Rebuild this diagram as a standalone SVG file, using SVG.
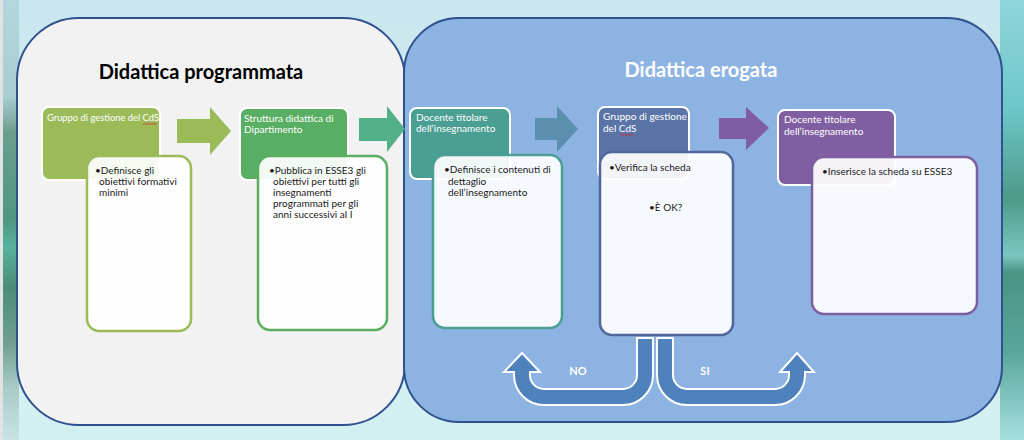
<svg xmlns="http://www.w3.org/2000/svg" width="1024" height="440" viewBox="0 0 1024 440">
<defs>
<linearGradient id="bg" x1="0" y1="0" x2="0" y2="1">
<stop offset="0" stop-color="#c9e6ee"/>
<stop offset="0.5" stop-color="#d6eff2"/>
<stop offset="1" stop-color="#d2f0f2"/>
</linearGradient>
<linearGradient id="lstrip" x1="0" y1="0" x2="0" y2="1">
<stop offset="0" stop-color="#b4d6de"/>
<stop offset="0.22" stop-color="#a9cdd2"/>
<stop offset="0.3" stop-color="#6c9e8e"/>
<stop offset="0.5" stop-color="#4f9683"/>
<stop offset="0.56" stop-color="#58b39c"/>
<stop offset="0.65" stop-color="#4c8c7a"/>
<stop offset="0.78" stop-color="#6f9f92"/>
<stop offset="0.88" stop-color="#a9cac6"/>
<stop offset="1" stop-color="#c8e4e4"/>
</linearGradient>
<linearGradient id="rstrip" x1="0" y1="0" x2="0" y2="1">
<stop offset="0" stop-color="#8fd6dc"/>
<stop offset="0.25" stop-color="#6cc6c8"/>
<stop offset="0.45" stop-color="#4d9a88"/>
<stop offset="0.58" stop-color="#7cc6c0"/>
<stop offset="0.62" stop-color="#4a9282"/>
<stop offset="0.8" stop-color="#5aa69c"/>
<stop offset="1" stop-color="#a6e0e0"/>
</linearGradient>
<style>
.panel{stroke:#2f528f;stroke-width:2}
.head{fill:#ffffff;font-family:Lato,"Liberation Sans",sans-serif;font-size:10px}
.body{fill:#1a1a1a;font-family:Lato,"Liberation Sans",sans-serif;font-size:10px}
.title{font-family:Lato,"Liberation Sans",sans-serif;font-size:20px;font-weight:bold}
.cbox{stroke:#ffffff;stroke-width:2}
.wbox{fill:#ffffff;fill-opacity:0.92;stroke-width:2.5}
.squig{fill:none;stroke:#e02020;stroke-width:0.8}
.uarrow{fill:#4f81bd;stroke:#ffffff;stroke-width:2}
.lbl{fill:#ffffff;font-family:Lato,"Liberation Sans",sans-serif;font-size:11px;font-weight:bold}
</style>
</defs>
<g id="background">
<rect x="0" y="0" width="1024" height="440" fill="url(#bg)"/>
<rect x="3" y="0" width="16" height="440" fill="url(#lstrip)"/>
<rect x="0" y="0" width="3" height="440" fill="#dfe3e3"/>
<rect x="1000" y="0" width="24" height="440" fill="url(#rstrip)"/>
</g>
<g id="panel-programmata">
<rect class="panel" x="17" y="18" width="388" height="407" rx="62" ry="62" fill="#f2f2f2"/>
<text class="title" x="201" y="79" text-anchor="middle" fill="#000000">Didattica programmata</text>
</g>
<g id="panel-erogata">
<rect class="panel" x="404" y="18" width="598" height="404" rx="55" ry="55" fill="#8db3e2"/>
<text class="title" x="701" y="77" text-anchor="middle" fill="#ffffff">Didattica erogata</text>
</g>
<g id="connectors">
<polygon points="177,119 210,119 210,107 231,131 210,155 210,143 177,143" fill="#9bbb59"/>
<polygon points="359,118 387,118 387,106 405,129 387,152 387,141 359,141" fill="#52b088"/>
<polygon points="535,118 557,118 557,106 578,129 557,152 557,140 535,140" fill="#5a8fb0"/>
<polygon points="719,118 746,118 746,107 769,128 746,150 746,139 719,139" fill="#7f5ca3"/>
<path class="uarrow" d="M 637 338 L 653 338 L 653 375 A 30 30 0 0 1 623 405 L 544 405 A 30 30 0 0 1 514 375 L 514 372 L 504 372 L 522 353 L 540 372 L 530 372 L 530 375 A 14 14 0 0 0 544 389 L 623 389 A 14 14 0 0 0 637 375 Z"/>
<path class="uarrow" d="M 673 338 L 657 338 L 657 375 A 30 30 0 0 0 687 405 L 775 405 A 30 30 0 0 0 805 375 L 805 372 L 814 372 L 797 353 L 780 372 L 789 372 L 789 375 A 14 14 0 0 1 775 389 L 687 389 A 14 14 0 0 1 673 375 Z"/>
<text class="lbl" x="578" y="375" text-anchor="middle">NO</text>
<text class="lbl" x="705" y="375" text-anchor="middle">SI</text>
</g>
<g id="node-gruppo-cds-1">
<rect class="cbox" x="42" y="107" width="118" height="73" rx="7" fill="#9bbb59"/>
<text class="head" x="47" y="121" textLength="112" lengthAdjust="spacingAndGlyphs">Gruppo di gestione del CdS</text>
<path class="squig" d="M143 124.5 l1.5 -1.2 l1.5 1.2 l1.5 -1.2 l1.5 1.2 l1.5 -1.2 l1.5 1.2 l1.5 -1.2 l1.5 1.2 l1.5 -1.2"/>
<rect class="wbox" x="87" y="156" width="104" height="175" rx="12" stroke="#9bbb59"/>
<text class="body" x="95" y="174">•Definisce gli</text>
<text class="body" x="99" y="185">obiettivi formativi</text>
<text class="body" x="99" y="196">minimi</text>
</g>
<g id="node-struttura">
<rect class="cbox" x="240" y="108" width="108" height="72" rx="7" fill="#58ae62"/>
<text class="head" x="244" y="122">Struttura didattica di</text>
<text class="head" x="244" y="133">Dipartimento</text>
<rect class="wbox" x="258" y="156" width="129" height="174" rx="12" stroke="#5aae62"/>
<text class="body" x="269" y="174">•Pubblica in ESSE3 gli</text>
<text class="body" x="273" y="185">obiettivi per tutti gli</text>
<text class="body" x="273" y="196">insegnamenti</text>
<text class="body" x="273" y="207">programmati per gli</text>
<text class="body" x="273" y="218">anni successivi al I</text>
</g>
<g id="node-docente-1">
<rect class="cbox" x="410" y="108" width="100" height="71" rx="7" fill="#4a9e92"/>
<text class="head" x="416" y="121">Docente titolare</text>
<text class="head" x="416" y="132">dell’insegnamento</text>
<rect class="wbox" x="433" y="155" width="129" height="173" rx="12" stroke="#4a9e92"/>
<text class="body" x="444" y="173">•Definisce i contenuti di</text>
<text class="body" x="448" y="185">dettaglio</text>
<text class="body" x="448" y="196">dell’insegnamento</text>
</g>
<g id="node-gruppo-cds-2">
<rect class="cbox" x="598" y="107" width="91" height="72" rx="7" fill="#5a74a8"/>
<text class="head" x="603" y="120">Gruppo di gestione</text>
<text class="head" x="603" y="132">del CdS</text>
<path class="squig" d="M620 135.5 l1.5 -1.2 l1.5 1.2 l1.5 -1.2 l1.5 1.2 l1.5 -1.2 l1.5 1.2 l1.5 -1.2 l1.5 1.2 l1.5 -1.2"/>
<rect class="wbox" x="600" y="152" width="133" height="183" rx="12" stroke="#4f679c"/>
<text class="body" x="609" y="171">•Verifica la scheda</text>
<text class="body" x="649" y="211">•È OK?</text>
</g>
<g id="node-docente-2">
<rect class="cbox" x="778" y="110" width="117" height="75" rx="7" fill="#7f5fa1"/>
<text class="head" x="784" y="123">Docente titolare</text>
<text class="head" x="784" y="135">dell’insegnamento</text>
<rect class="wbox" x="812" y="157" width="165" height="157" rx="12" stroke="#7d5e9f"/>
<text class="body" x="822" y="175">•Inserisce la scheda su ESSE3</text>
</g>
</svg>
